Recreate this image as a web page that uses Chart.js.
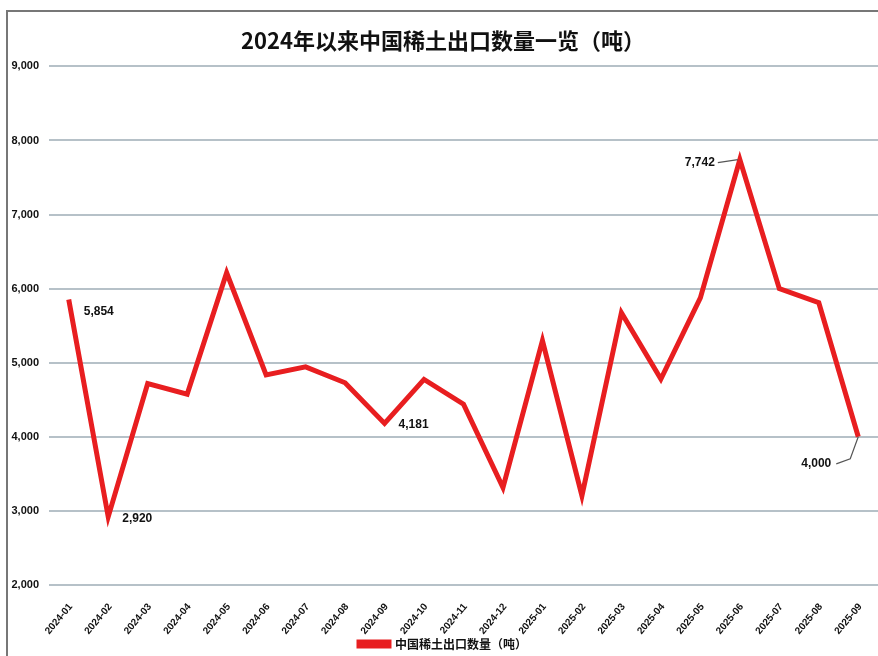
<!DOCTYPE html>
<html>
<head>
<meta charset="utf-8">
<script src="https://cdn.jsdelivr.net/npm/chart.js@4.4.1/dist/chart.umd.min.js"></script>
<style>
    html, body { margin: 0; padding: 0; background: #fff; }
    #wrap { position: relative; width: 878px; height: 656px; overflow: hidden; }
    #frame { position: absolute; left: 6px; top: 10px; width: 900px; height: 700px;
             border-left: 2px solid #777; border-top: 2px solid #777; }
    canvas { position: absolute; left: 0; top: 0; }
</style>
</head>
<body>
<div id="wrap">
    <div id="frame"></div>
    <canvas id="exportChart" width="878" height="656"></canvas>
</div>
<script>
// Months on the x axis
const months = ['2024-01', '2024-02', '2024-03', '2024-04', '2024-05', '2024-06', '2024-07',
    '2024-08', '2024-09', '2024-10', '2024-11', '2024-12', '2025-01', '2025-02', '2025-03',
    '2025-04', '2025-05', '2025-06', '2025-07', '2025-08', '2025-09'];

// Export volume, tonnes (labelled ones are exact)
const exportTons = [5854, 2920, 4720, 4575, 6215, 4835, 4945, 4730, 4181, 4775, 4440, 3315,
    5300, 3205, 5675, 4780, 5875, 7742, 6000, 5810, 4000];

// Months that carry a value label
const labelledMonths = ['2024-01', '2024-02', '2024-09', '2025-06', '2025-09'];

const yMin = 2000;
const yMax = 9000;
const yStep = 1000;

const seriesName = '中国稀土出口数量（吨）';
const chartTitle = '2024年以来中国稀土出口数量一览（吨）';

const latinFont = '"Liberation Sans", Arial, sans-serif';
const cjkFont = '"Noto Sans CJK SC", sans-serif';

// How each value label sits next to its point
const labelPlacement = {
    '2024-01': { dx: 15, dy: 12, align: 'left' },
    '2024-02': { dx: 14, dy: 2, align: 'left' },
    '2024-09': { dx: 14, dy: 1, align: 'left' },
    '2025-06': { dx: -25, dy: 3, align: 'right', leader: [[-22, 3], [-2, 0]] },
    '2025-09': { dx: -27, dy: 27, align: 'right', leader: [[-22, 27], [-8, 22], [0, 0]] }
};

// Draw the value labels and leader lines
const valueLabels = {
    id: 'valueLabels',
    afterDatasetsDraw(chart) {
        const ctx = chart.ctx;
        const meta = chart.getDatasetMeta(0);
        ctx.save();
        ctx.font = 'bold 12px ' + latinFont;
        ctx.fillStyle = '#111';
        ctx.textBaseline = 'middle';
        labelledMonths.forEach(m => {
            const i = months.indexOf(m);
            const pt = meta.data[i];
            const p = labelPlacement[m];
            if (p.leader) {
                ctx.strokeStyle = '#555';
                ctx.lineWidth = 1.2;
                ctx.beginPath();
                p.leader.forEach((d, k) => {
                    if (k === 0) ctx.moveTo(pt.x + d[0], pt.y + d[1]);
                    else ctx.lineTo(pt.x + d[0], pt.y + d[1]);
                });
                ctx.stroke();
            }
            ctx.textAlign = p.align;
            ctx.fillText(exportTons[i].toLocaleString('en-US'), pt.x + p.dx, pt.y + p.dy);
        });
        ctx.restore();
    }
};

function initChart() {
    const ctx = document.getElementById('exportChart').getContext('2d');
    new Chart(ctx, {
        type: 'line',
        data: {
            labels: months,
            datasets: [{
                label: seriesName,
                data: exportTons,
                borderColor: 'rgb(232, 30, 32)',
                backgroundColor: 'rgb(232, 30, 32)',
                borderWidth: 5,
                pointRadius: 0,
                tension: 0,
                fill: false,
                borderJoinStyle: 'miter'
            }]
        },
        options: {
            responsive: false,
            animation: false,
            layout: { padding: { left: 8, right: 0, top: 10, bottom: -4 } },
            plugins: {
                title: {
                    display: true,
                    text: chartTitle,
                    color: '#111',
                    font: { family: cjkFont, size: 22, weight: 'bold' },
                    padding: { top: 17, bottom: 13 }
                },
                legend: {
                    position: 'bottom',
                    labels: {
                        boxWidth: 30,
                        boxHeight: 4,
                        color: '#111',
                        font: { family: cjkFont, size: 12, weight: 'bold' },
                        padding: 0
                    }
                },
                tooltip: { enabled: false }
            },
            scales: {
                x: {
                    offset: true,
                    grid: { display: false },
                    border: { display: false },
                    afterFit: scale => { scale.height = 53; },
                    ticks: {
                        minRotation: 50,
                        maxRotation: 50,
                        color: '#111',
                        font: { family: latinFont, size: 10, weight: 'bold' },
                        padding: 8,
                        labelOffset: 2
                    }
                },
                y: {
                    min: yMin,
                    max: yMax,
                    grid: { color: '#b6c1c8', lineWidth: 2, drawTicks: false },
                    border: { display: false },
                    afterFit: scale => { scale.width = 41; },
                    ticks: {
                        stepSize: yStep,
                        color: '#111',
                        padding: 10,
                        font: { family: latinFont, size: 11, weight: 'bold' },
                        callback: v => v.toLocaleString('en-US')
                    }
                }
            }
        },
        plugins: [valueLabels]
    });
}

document.addEventListener('DOMContentLoaded', initChart);
</script>
</body>
</html>
